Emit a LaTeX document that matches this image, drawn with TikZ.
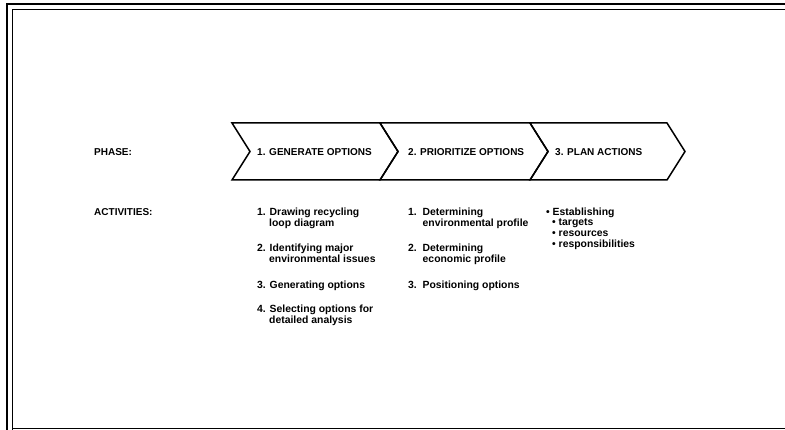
\documentclass[tikz,border=0pt]{standalone}
\usepackage{fontspec}
\setmainfont{Liberation Sans}
\tikzset{
  head/.style={anchor=base west, inner sep=0pt, font=\fontsize{10}{12}\selectfont\bfseries},
  act/.style={anchor=base west, inner sep=0pt, font=\fontsize{10.4}{11}\selectfont\bfseries},
  frame/.style={line width=1.8pt},
  chev/.style={line width=1.5pt, line join=miter}
}
\begin{document}
\begin{tikzpicture}[x=1pt, y=-1pt]
\useasboundingbox (0,0) rectangle (785,430);
% double frame, open to the right
\draw[frame] (7,430)--(7,4)--(785,4);
\draw[frame] (12.5,430)--(12.5,9.5)--(785,9.5);
\draw[frame] (12.5,428.5)--(785,428.5);
% the three phase chevrons
\foreach \x/\w in {232/148,380/150,530/137}
{
	\draw[chev] (\x,123)--(\x+\w,123)--(\x+\w+18,151.5)--(\x+\w,180)--(\x,180)--(\x+18,151.5)--cycle;
}
\node[head] (phase) at (94,155.5) {PHASE:};
\node[head] (gen) at (257,155.5) {1. GENERATE OPTIONS};
\node[head] (prio) at (408,155.5) {2. PRIORITIZE OPTIONS};
\node[head] (plan) at (555,155.5) {3. PLAN ACTIONS};
\node[head] (activities) at (94,215.5) {ACTIVITIES:};
% activities under each phase
\foreach \x/\y/\xtext [count=\i] in {257/215.5/{1. Drawing recycling},269/226.5/{loop diagram},
	257/251.5/{2. Identifying major},269/262.5/{environmental issues},257/288.5/{3. Generating options},
	257/312.5/{4. Selecting options for},269/323.5/{detailed analysis}}
	\node[act] (g\i) at (\x,\y) {\xtext};
\foreach \x/\y/\xtext [count=\i] in {408/215.5/{1.\ \ Determining},422.5/226.5/{environmental profile},
	408/251.5/{2.\ \ Determining},422.5/262.5/{economic profile},408/288.5/{3.\ \ Positioning options}}
	\node[act] (p\i) at (\x,\y) {\xtext};
\foreach \x/\y/\xtext [count=\i] in {546/215.5/{Establishing},552/225.5/{targets},
	552/236.5/{resources},552/247.5/{responsibilities}}
	\node[act] (l\i) at (\x,\y) {\textbullet\ \xtext};
\end{tikzpicture}
\end{document}
